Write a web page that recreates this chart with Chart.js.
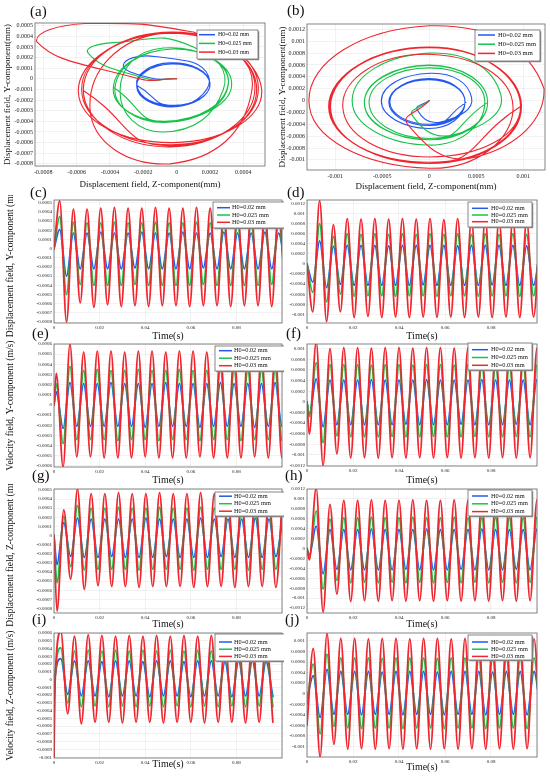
<!DOCTYPE html>
<html>
<head>
<meta charset="utf-8">
<script src="https://cdn.jsdelivr.net/npm/chart.js@4.4.1/dist/chart.umd.min.js"></script>
<style>
  body { margin: 0; background: #fff; }
  #wrap { position: relative; width: 550px; height: 777px; overflow: hidden; background: #fff; }
  #wrap canvas { position: absolute; }
  .lab { position: absolute; font-family: 'Liberation Serif', serif; font-size: 15px; line-height: 15px; color: #111; }
</style>
</head>
<body>
<div id="wrap"></div>
<script>
// legend labels and colours
const labels = ['H0=0.02 mm', 'H0=0.025 mm', 'H0=0.03 mm'];
const colors = ['#2457f0', '#18c24a', '#f0262e'];

// ---- orbit (a): Z/Y displacement, points at the left/top/right/bottom of each turn
const aBlueZ = [0, -0.00016, -0.00032, -0.00013, 0.00019, 0.00001, -0.00024, -0.00004, 0.0002, -0.00001, -0.00024, -0.00003, 0.0002, -0.00002, -0.00024, -0.00003, 0.0002, -0.00002, -0.00024];
const aBlueY = [0, 0.00001, 0.00013, 0.00021, 0.00003, -0.00026, -0.00006, 0.00015, -0.00004, -0.00025, -0.00006, 0.00014, -0.00005, -0.00026, -0.00007, 0.00014, -0.00005, -0.00025, -0.00006];
const aGreenZ = [0, -0.0002, -0.00053, -0.00038, 0.0001, 0.00028, -0.00008, -0.00034, -0.00008, 0.00033, -0.00006, -0.00038, -0.00002, 0.00031, -0.00007, -0.00037, -0.00002, 0.00031, -0.00007, -0.00038];
const aGreenY = [0, 0.00001, 0.00024, 0.00034, 0.0003, -0.0001, -0.0005, -0.00012, 0.00029, -0.00004, -0.0004, -0.00008, 0.00028, -0.00005, -0.00041, -0.00008, 0.00028, -0.00004, -0.0004, -0.00008];
const aRedZ = [0, -0.00025, -0.00084, -0.00055, 0.0001, 0.00045, -0.00004, -0.00052, -0.00008, 0.00051, -0.00002, -0.00059, -0.00004, 0.00047, -0.00004, -0.00056, -0.00003, 0.00049, -0.00003, -0.00057, -0.00004, 0.00048, -0.00004, -0.00056];
const aRedY = [0, 0.00001, 0.00035, 0.00052, 0.00044, -0.00012, -0.0008, -0.00028, 0.00043, -0.0001, -0.0006, -0.00012, 0.00043, -0.00008, -0.00064, -0.0001, 0.00044, -0.00009, -0.00062, -0.0001, 0.00043, -0.0001, -0.00063, -0.00011];

// ---- orbit (b)
const bBlueZ = [0, -0.00013, 0.00012, 0.00045, 0.00001, -0.00051, -0.00001, 0.00038, 0, -0.00042, 0, 0.00038, 0, -0.00043, 0, 0.00038, 0, -0.00043, 0, 0.00039];
const bBlueY = [0, -0.00015, -0.00036, 0.00005, 0.00046, 0, -0.00047, -0.00003, 0.00035, -0.00002, -0.0004, -0.00002, 0.00037, -0.00003, -0.00042, -0.00003, 0.00037, -0.00003, -0.00042, -0.00003];
const bGreenZ = [0, -0.00018, 0.00025, 0.00076, 0.00001, -0.00082, 0, 0.00059, 0, -0.00064, 0, 0.00062, 0, -0.00069, 0, 0.00062, 0, -0.00069, 0, 0.00062];
const bGreenY = [0, -0.00025, -0.00058, 0.0001, 0.0008, 0, -0.00075, -0.00003, 0.00055, -0.00003, -0.00064, -0.00003, 0.0006, -0.00003, -0.00066, -0.00003, 0.00059, -0.00004, -0.00066, -0.00003];
const bRedZ = [0, -0.00023, 0.0005, 0.00122, 0, -0.00128, 0, 0.00089, -0.00005, -0.00092, 0, 0.00097, 0, -0.00107, 0, 0.00097, 0, -0.00105, 0, 0.00098, 0, -0.00106, 0, 0.00097];
const bRedY = [0, -0.0004, -0.00095, 0.0002, 0.00126, 0, -0.00114, -0.0001, 0.00078, -0.0001, -0.00095, -0.0001, 0.0009, -0.0001, -0.00104, -0.0001, 0.0009, -0.0001, -0.00106, -0.0001, 0.00089, -0.0001, -0.00106, -0.0001];

// ---- time series: times of the peaks/troughs and the values there
const tC = [0, 0.0025, 0.0055, 0.0085, 0.0115, 0.0145, 0.0175, 0.0205, 0.0235, 0.0265, 0.0295, 0.0325, 0.0355, 0.0385, 0.0415, 0.0445, 0.0475, 0.0505, 0.0535, 0.0565, 0.0595, 0.0625, 0.0655, 0.0685, 0.0715, 0.0745, 0.0775, 0.0805, 0.0835, 0.0865, 0.0895, 0.0925, 0.0955, 0.0985, 0.1015];
const cBlue = [0,
  0.00021, -0.0003, 0.00017, -0.00022, 0.00017, -0.00022, 0.00018, -0.00022,
  0.00017, -0.00022, 0.00017, -0.00021, 0.00018, -0.00022, 0.00017, -0.00022,
  0.00017, -0.00022, 0.00018, -0.00022, 0.00017, -0.00021, 0.00017, -0.00022,
  0.00018, -0.00022, 0.00017, -0.00022, 0.00017, -0.00022, 0.00018, -0.00022,
  0.00017, -0.00022];
const cGreen = [0,
  0.00035, -0.0005, 0.00029, -0.00039, 0.00028, -0.0004, 0.00028, -0.0004,
  0.00029, -0.0004, 0.00028, -0.00039, 0.00028, -0.0004, 0.00029, -0.0004,
  0.00028, -0.0004, 0.00028, -0.0004, 0.00029, -0.00039, 0.00028, -0.0004,
  0.00028, -0.0004, 0.00029, -0.0004, 0.00028, -0.0004, 0.00028, -0.00039,
  0.00029, -0.0004];
const cRed = [0,
  0.00052, -0.0008, 0.00043, -0.00059, 0.00043, -0.00064, 0.00044, -0.00061,
  0.00045, -0.00063, 0.00044, -0.00062, 0.00044, -0.00063, 0.00045, -0.00062,
  0.00044, -0.00062, 0.00044, -0.00063, 0.00045, -0.00062, 0.00044, -0.00062,
  0.00044, -0.00063, 0.00045, -0.00062, 0.00044, -0.00062, 0.00044, -0.00063,
  0.00045, -0.00062];

const tD = tC;
const dBlue = [0,
  -0.00036, 0.00046, -0.00047, 0.00035, -0.0004, 0.00037, -0.00042, 0.00037,
  -0.00042, 0.00037, -0.00042, 0.00036, -0.00042, 0.00037, -0.00042, 0.00037,
  -0.00041, 0.00037, -0.00042, 0.00037, -0.00042, 0.00036, -0.00042, 0.00037,
  -0.00042, 0.00037, -0.00041, 0.00037, -0.00042, 0.00037, -0.00042, 0.00036,
  -0.00042, 0.00037];
const dGreen = [0,
  -0.00056, 0.0008, -0.00075, 0.00055, -0.0006, 0.0006, -0.00064, 0.00059,
  -0.00063, 0.0006, -0.00063, 0.00059, -0.00064, 0.0006, -0.00063, 0.00059,
  -0.00063, 0.0006, -0.00064, 0.00059, -0.00063, 0.0006, -0.00063, 0.00059,
  -0.00064, 0.0006, -0.00063, 0.00059, -0.00063, 0.0006, -0.00064, 0.00059,
  -0.00063, 0.0006];
const dRed = [0,
  -0.00095, 0.00126, -0.00114, 0.00078, -0.00095, 0.0009, -0.00106, 0.00089,
  -0.00104, 0.0009, -0.00106, 0.00089, -0.00105, 0.0009, -0.00106, 0.00089,
  -0.00105, 0.0009, -0.00106, 0.00088, -0.00105, 0.0009, -0.00106, 0.00089,
  -0.00105, 0.0009, -0.00106, 0.00089, -0.00105, 0.0009, -0.00106, 0.00089,
  -0.00105, 0.0009];

const tE = [0, 0.001, 0.004, 0.007, 0.01, 0.013, 0.016, 0.019, 0.022, 0.025, 0.028, 0.031, 0.034, 0.037, 0.04, 0.043, 0.046, 0.049, 0.052, 0.055, 0.058, 0.061, 0.064, 0.067, 0.07, 0.073, 0.076, 0.079, 0.082, 0.085, 0.088, 0.091, 0.094, 0.097, 0.1, 0.103];
const eBlue = [0,
  0.00013, -0.00023, 0.00022, -0.00021, 0.00021, -0.00021, 0.00021, -0.00021,
  0.00022, -0.00021, 0.00021, -0.00021, 0.00021, -0.00022, 0.00021, -0.00021,
  0.00022, -0.00021, 0.00021, -0.00021, 0.00021, -0.00022, 0.00021, -0.00021,
  0.00022, -0.00021, 0.00021, -0.00021, 0.00021, -0.00022, 0.00021, -0.00021,
  0.00022, -0.00021, 0.00021];
const eGreen = [0,
  0.00021, -0.00038, 0.00038, -0.00034, 0.00034, -0.00034, 0.00035, -0.00034,
  0.00034, -0.00035, 0.00034, -0.00034, 0.00035, -0.00034, 0.00034, -0.00035,
  0.00034, -0.00034, 0.00035, -0.00034, 0.00034, -0.00035, 0.00034, -0.00034,
  0.00035, -0.00034, 0.00034, -0.00035, 0.00034, -0.00034, 0.00035, -0.00034,
  0.00034, -0.00035, 0.00034];
const eRed = [0,
  0.00031, -0.00061, 0.0006, -0.00051, 0.00052, -0.00051, 0.00053, -0.00052,
  0.00053, -0.00052, 0.00052, -0.00052, 0.00053, -0.00051, 0.00053, -0.00052,
  0.00052, -0.00052, 0.00053, -0.00052, 0.00053, -0.00051, 0.00052, -0.00052,
  0.00053, -0.00052, 0.00053, -0.00052, 0.00052, -0.00051, 0.00053, -0.00052,
  0.00053, -0.00052, 0.00052];

const tF = tE;
const fBlue = [0,
  -0.00024, 0.00043, -0.00047, 0.00041, -0.00043, 0.00041, -0.00043, 0.00041,
  -0.00043, 0.00042, -0.00043, 0.00041, -0.00043, 0.00041, -0.00042, 0.00041,
  -0.00043, 0.00042, -0.00043, 0.00041, -0.00043, 0.00041, -0.00042, 0.00041,
  -0.00043, 0.00042, -0.00043, 0.00041, -0.00043, 0.00041, -0.00042, 0.00041,
  -0.00043, 0.00042, -0.00043];
const fGreen = [0,
  -0.00028, 0.00074, -0.00077, 0.0007, -0.00064, 0.0007, -0.00066, 0.0007,
  -0.00066, 0.00069, -0.00066, 0.0007, -0.00065, 0.0007, -0.00066, 0.00069,
  -0.00066, 0.0007, -0.00065, 0.0007, -0.00066, 0.00069, -0.00066, 0.0007,
  -0.00065, 0.0007, -0.00066, 0.00069, -0.00066, 0.0007, -0.00065, 0.0007,
  -0.00066, 0.00069, -0.00066];
const fRed = [0,
  -0.00061, 0.00113, -0.0012, 0.001, -0.00098, 0.00102, -0.00106, 0.00102,
  -0.00105, 0.00101, -0.00106, 0.00102, -0.00105, 0.00102, -0.00106, 0.00101,
  -0.00105, 0.00102, -0.00106, 0.00102, -0.00105, 0.00101, -0.00106, 0.00102,
  -0.00105, 0.00102, -0.00106, 0.00101, -0.00105, 0.00102, -0.00106, 0.00102,
  -0.00105, 0.00101, -0.00106];

const tG = [0, 0.0013, 0.0043, 0.0073, 0.0103, 0.0133, 0.0163, 0.0193, 0.0223, 0.0253, 0.0283, 0.0313, 0.0343, 0.0373, 0.0403, 0.0433, 0.0463, 0.0493, 0.0523, 0.0553, 0.0583, 0.0613, 0.0643, 0.0673, 0.0703, 0.0733, 0.0763, 0.0793, 0.0823, 0.0853, 0.0883, 0.0913, 0.0943, 0.0973, 0.1003];
const gBlue = [0,
  -0.00032, 0.00014, -0.00023, 0.00019, -0.00024, 0.00018, -0.00024, 0.00018,
  -0.00023, 0.00018, -0.00024, 0.00018, -0.00024, 0.00019, -0.00024, 0.00018,
  -0.00023, 0.00018, -0.00024, 0.00018, -0.00024, 0.00019, -0.00024, 0.00018,
  -0.00023, 0.00018, -0.00024, 0.00018, -0.00024, 0.00019, -0.00024, 0.00018,
  -0.00023, 0.00018];
const gGreen = [0,
  -0.00052, 0.00021, -0.00034, 0.00033, -0.00038, 0.0003, -0.00037, 0.0003,
  -0.00037, 0.00031, -0.00037, 0.0003, -0.00038, 0.0003, -0.00037, 0.00031,
  -0.00037, 0.0003, -0.00037, 0.0003, -0.00038, 0.00031, -0.00037, 0.0003,
  -0.00037, 0.0003, -0.00037, 0.00031, -0.00038, 0.0003, -0.00037, 0.0003,
  -0.00037, 0.00031];
const gRed = [0,
  -0.00083, 0.00028, -0.00048, 0.00051, -0.00059, 0.00046, -0.00055, 0.00046,
  -0.00056, 0.00047, -0.00056, 0.00046, -0.00057, 0.00046, -0.00056, 0.00047,
  -0.00056, 0.00046, -0.00056, 0.00046, -0.00057, 0.00047, -0.00056, 0.00046,
  -0.00056, 0.00046, -0.00057, 0.00047, -0.00056, 0.00046, -0.00056, 0.00046,
  -0.00057, 0.00047];

const tH = tE;
const hBlue = [0,
  -0.00013, 0.00045, -0.00051, 0.00038, -0.00042, 0.00038, -0.00043, 0.00038,
  -0.00043, 0.00039, -0.00043, 0.00038, -0.00043, 0.00038, -0.00042, 0.00038,
  -0.00043, 0.00039, -0.00043, 0.00038, -0.00043, 0.00038, -0.00042, 0.00038,
  -0.00043, 0.00039, -0.00043, 0.00038, -0.00043, 0.00038, -0.00042, 0.00038,
  -0.00043, 0.00039, -0.00043];
const hGreen = [0,
  -0.00018, 0.00076, -0.00082, 0.00059, -0.00064, 0.00062, -0.00069, 0.00062,
  -0.00068, 0.00063, -0.00069, 0.00062, -0.00068, 0.00062, -0.00069, 0.00063,
  -0.00068, 0.00062, -0.00069, 0.00062, -0.00068, 0.00063, -0.00069, 0.00062,
  -0.00068, 0.00062, -0.00069, 0.00063, -0.00068, 0.00062, -0.00069, 0.00062,
  -0.00068, 0.00063, -0.00069];
const hRed = [0,
  -0.00023, 0.00122, -0.00128, 0.00089, -0.00092, 0.00097, -0.00107, 0.00097,
  -0.00105, 0.00098, -0.00106, 0.00097, -0.00105, 0.00097, -0.00106, 0.00098,
  -0.00105, 0.00097, -0.00106, 0.00097, -0.00105, 0.00098, -0.00106, 0.00097,
  -0.00105, 0.00097, -0.00106, 0.00098, -0.00105, 0.00097, -0.00106, 0.00097,
  -0.00105, 0.00098, -0.00106];

const tI = [0, 0.0004, 0.003, 0.006, 0.009, 0.012, 0.015, 0.018, 0.021, 0.024, 0.027, 0.03, 0.033, 0.036, 0.039, 0.042, 0.045, 0.048, 0.051, 0.054, 0.057, 0.06, 0.063, 0.066, 0.069, 0.072, 0.075, 0.078, 0.081, 0.084, 0.087, 0.09, 0.093, 0.096, 0.099, 0.102];
const iBlue = [-0.0003, 0.00001,
  0.00027, -0.00019, 0.00024, -0.00021, 0.00024, -0.00021, 0.00023, -0.00022,
  0.00024, -0.00021, 0.00024, -0.00021, 0.00023, -0.00022, 0.00024, -0.00021,
  0.00024, -0.00021, 0.00023, -0.00022, 0.00024, -0.00021, 0.00024, -0.00021,
  0.00023, -0.00022, 0.00024, -0.00021, 0.00024, -0.00021, 0.00023, -0.00022];
const iGreen = [-0.0005, 0,
  0.00041, -0.0003, 0.00037, -0.00035, 0.00038, -0.00034, 0.00037, -0.00035,
  0.00038, -0.00034, 0.00037, -0.00035, 0.00038, -0.00034, 0.00037, -0.00035,
  0.00038, -0.00034, 0.00037, -0.00035, 0.00038, -0.00034, 0.00037, -0.00035,
  0.00038, -0.00034, 0.00037, -0.00035, 0.00038, -0.00034, 0.00037, -0.00035];
const iRed = [-0.00105, -0.0001,
  0.00062, -0.00044, 0.00056, -0.00057, 0.00058, -0.00055, 0.00057, -0.00055,
  0.00056, -0.00056, 0.00057, -0.00055, 0.00056, -0.00055, 0.00057, -0.00056,
  0.00056, -0.00055, 0.00057, -0.00055, 0.00056, -0.00056, 0.00057, -0.00055,
  0.00056, -0.00055, 0.00057, -0.00056, 0.00056, -0.00055, 0.00057, -0.00055];

const tJ = [0, 0.0027, 0.0057, 0.0087, 0.0117, 0.0147, 0.0177, 0.0207, 0.0237, 0.0267, 0.0297, 0.0327, 0.0357, 0.0387, 0.0417, 0.0447, 0.0477, 0.0507, 0.0537, 0.0567, 0.0597, 0.0627, 0.0657, 0.0687, 0.0717, 0.0747, 0.0777, 0.0807, 0.0837, 0.0867, 0.0897, 0.0927, 0.0957, 0.0987, 0.1017];
const jBlue = [-0.0001,
  0.00034, -0.00045, 0.00046, -0.00039, 0.00042, -0.00039, 0.00042, -0.0004,
  0.00042, -0.00039, 0.00041, -0.00039, 0.00042, -0.0004, 0.00042, -0.00039,
  0.00042, -0.00039, 0.00041, -0.0004, 0.00042, -0.00039, 0.00042, -0.00039,
  0.00042, -0.0004, 0.00041, -0.00039, 0.00042, -0.00039, 0.00042, -0.0004,
  0.00042, -0.00039];
const jGreen = [-0.0002,
  0.00056, -0.00076, 0.00075, -0.00062, 0.00068, -0.00065, 0.00068, -0.00066,
  0.00068, -0.00065, 0.00067, -0.00065, 0.00068, -0.00066, 0.00068, -0.00065,
  0.00068, -0.00065, 0.00067, -0.00066, 0.00068, -0.00065, 0.00068, -0.00065,
  0.00068, -0.00066, 0.00067, -0.00065, 0.00068, -0.00065, 0.00068, -0.00066,
  0.00068, -0.00065];
const jRed = [-0.0006,
  0.00086, -0.0012, 0.00114, -0.00096, 0.00105, -0.00105, 0.00105, -0.00104,
  0.00104, -0.00105, 0.00105, -0.00104, 0.00105, -0.00105, 0.00104, -0.00104,
  0.00105, -0.00105, 0.00105, -0.00104, 0.00104, -0.00105, 0.00105, -0.00104,
  0.00105, -0.00105, 0.00104, -0.00104, 0.00105, -0.00105, 0.00105, -0.00104,
  0.00104, -0.00105];

// ---------------------------------------------------------------------------
const serif = "'Liberation Serif', 'Times New Roman', serif";
const fmt = v => String(+v.toFixed(5));

function series(t, vals) {
  return t.map((x, i) => ({ x, y: vals[i] })).filter(p => p.y !== undefined);
}
function orbit(zs, ys) {
  return zs.map((z, i) => ({ x: z, y: ys[i] }));
}

// plot frame round the chart area
const framePlugin = {
  id: 'frame',
  afterDatasetsDraw(chart) {
    const { ctx, chartArea: a } = chart;
    ctx.save();
    ctx.strokeStyle = '#666';
    ctx.lineWidth = 0.8;
    ctx.strokeRect(a.left, a.top, a.right - a.left, a.bottom - a.top);
    ctx.restore();
  }
};

// boxed legend with a small shadow, like the original figure
const boxLegend = {
  id: 'boxLegend',
  afterDraw(chart, args, o) {
    if (!o || o.x === undefined) return;
    const ctx = chart.ctx;
    ctx.save();
    ctx.fillStyle = '#9a9a9a';
    ctx.fillRect(o.x + 1.3, o.y + 1.3, o.w, o.h);
    ctx.fillStyle = '#fff';
    ctx.fillRect(o.x, o.y, o.w, o.h);
    ctx.strokeStyle = '#555';
    ctx.lineWidth = 0.7;
    ctx.strokeRect(o.x, o.y, o.w, o.h);
    ctx.font = o.size + 'px ' + serif;
    ctx.textBaseline = 'middle';
    chart.data.datasets.forEach((ds, i) => {
      const yy = o.y + o.first + i * o.gap;
      ctx.strokeStyle = ds.borderColor;
      ctx.lineWidth = 1.5;
      ctx.beginPath();
      ctx.moveTo(o.x + o.lx1, yy);
      ctx.lineTo(o.x + o.lx2, yy);
      ctx.stroke();
      ctx.fillStyle = '#111';
      ctx.fillText(ds.label, o.x + o.tx, yy);
    });
    ctx.restore();
  }
};

const wrap = document.getElementById('wrap');

function makePanel(p) {
  const cv = document.createElement('canvas');
  cv.width = p.w;
  cv.height = p.h;
  cv.style.left = p.left + 'px';
  cv.style.top = p.top + 'px';
  cv.style.width = p.w + 'px';
  cv.style.height = p.h + 'px';
  wrap.appendChild(cv);

  const isOrbit = p.kind === 'orbit';
  const datasets = p.data.map((d, i) => ({
    label: labels[i],
    data: d,
    showLine: true,
    borderColor: colors[i],
    borderWidth: isOrbit ? 1.1 : 1.8,
    borderJoinStyle: 'round',
    borderCapStyle: 'round',
    pointRadius: 0,
    fill: false,
    order: 3 - i,
    tension: isOrbit ? 0.55 : 0,
    cubicInterpolationMode: isOrbit ? 'default' : 'monotone'
  }));

  const tickFont = { family: serif, size: p.tickSize };
  const leg = p.legend;

  new Chart(cv, {
    type: 'scatter',
    data: { datasets },
    options: {
      responsive: false,
      animation: false,
      events: [],
      layout: { padding: { top: p.padTop, right: p.padRight, left: 0, bottom: 0 } },
      plugins: {
        legend: { display: false },
        tooltip: { enabled: false },
        boxLegend: Object.assign({ size: 6.3 }, leg, { x: leg.x - p.left, y: leg.y - p.top })
      },
      scales: {
        x: {
          type: 'linear',
          min: p.x.min,
          max: p.x.max,
          grid: { color: 'rgba(0,0,0,0.09)', lineWidth: 0.6, drawTicks: false },
          border: { display: false },
          ticks: {
            stepSize: p.x.step,
            includeBounds: false,
            autoSkip: false,
            maxRotation: 0,
            padding: p.xPad,
            color: '#222',
            font: tickFont,
            callback: v => (p.x.hideAbove !== undefined && v > p.x.hideAbove) ? '' : fmt(v)
          },
          title: {
            display: !!p.xTitle,
            text: p.xTitle,
            color: '#111',
            font: { family: serif, size: p.xTitleSize, lineHeight: 1 },
            padding: { top: 0, bottom: p.xTitleOff - p.xTitleSize / 2 }
          },
          afterFit: s => { s.height = p.xh; }
        },
        y: {
          type: 'linear',
          min: p.y.min,
          max: p.y.max,
          grid: { color: 'rgba(0,0,0,0.09)', lineWidth: 0.6, drawTicks: false },
          border: { display: false },
          ticks: {
            stepSize: p.y.step,
            includeBounds: false,
            autoSkip: false,
            padding: 2,
            color: '#222',
            font: tickFont,
            callback: v => fmt(v)
          },
          title: {
            display: !!p.yTitle,
            text: p.yTitle,
            color: '#111',
            font: { family: serif, size: p.yTitleSize, lineHeight: 1 },
            padding: { top: p.yTitleOff - p.yTitleSize / 2, bottom: 0 }
          },
          afterFit: s => { s.width = p.yw; }
        }
      }
    },
    plugins: [framePlugin, boxLegend]
  });
}

const timeX = { min: 0, max: 0.1, step: 0.02, hideAbove: 0.09 };
const leftLeg = { w: 75, lx1: 4, lx2: 17, tx: 19, size: 6.3 };
const rightLeg = { w: 64, lx1: 4, lx2: 20, tx: 23, size: 6.3 };

const panels = [
  { kind: 'orbit', left: 0, top: 0, w: 275, h: 195, yw: 35, xh: 29, padTop: 23, padRight: 10,
    x: { min: -0.00085, max: 0.00053, step: 0.0002 }, y: { min: -0.00082, max: 0.000525, step: 0.0001 },
    tickSize: 6, xPad: 3,
    xTitle: 'Displacement field, Z-component(mm)', xTitleSize: 9, xTitleOff: 10,
    yTitle: 'Displacement field, Y-component(mm)', yTitleSize: 9, yTitleOff: 8,
    data: [orbit(aBlueZ, aBlueY), orbit(aGreenZ, aGreenY), orbit(aRedZ, aRedY)],
    legend: { x: 197, y: 30, w: 61, h: 29, first: 4.7, gap: 8.7, lx1: 2, lx2: 18, tx: 21, size: 5.8 } },
  { kind: 'orbit', left: 275, top: 0, w: 275, h: 195, yw: 32, xh: 25, padTop: 24, padRight: 5,
    x: { min: -0.0013, max: 0.00123, step: 0.0005 }, y: { min: -0.00117, max: 0.00129, step: 0.0002 },
    tickSize: 6, xPad: 3,
    xTitle: 'Displacement field, Z-component(mm)', xTitleSize: 9, xTitleOff: 8,
    yTitle: 'Displacement field, Y-component(mm)', yTitleSize: 9, yTitleOff: 8,
    data: [orbit(bBlueZ, bBlueY), orbit(bGreenZ, bGreenY), orbit(bRedZ, bRedY)],
    legend: { x: 475, y: 30, w: 65, h: 31, first: 5, gap: 9.2, lx1: 3, lx2: 20, tx: 23, size: 6.5 } },

  { left: 0, top: 195, w: 284, h: 146, yw: 54, xh: 18, padTop: 2, padRight: 1,
    x: timeX, y: { min: -0.00081, max: 0.00053, step: 0.0001 }, tickSize: 5, xPad: 2,
    xTitle: 'Time(s)', xTitleSize: 10, xTitleOff: 5,
    yTitle: 'Displacement field, Y-component (mm)', yTitleSize: 9.5, yTitleOff: 10,
    data: [series(tC, cBlue), series(tC, cGreen), series(tC, cRed)],
    legend: Object.assign({ x: 213, y: 202, h: 26, first: 5.7, gap: 7.3 }, leftLeg) },
  { left: 284, top: 195, w: 266, h: 146, yw: 23, xh: 18, padTop: 2, padRight: 13,
    x: timeX, y: { min: -0.00117, max: 0.00127, step: 0.0002 }, tickSize: 5, xPad: 2,
    xTitle: 'Time(s)', xTitleSize: 10, xTitleOff: 5,
    data: [series(tD, dBlue), series(tD, dGreen), series(tD, dRed)],
    legend: Object.assign({ x: 468, y: 202, h: 25, first: 6.3, gap: 6.7 }, rightLeg) },

  { left: 0, top: 339, w: 284, h: 147, yw: 54, xh: 19, padTop: 2, padRight: 1,
    x: timeX, y: { min: -0.00061, max: 0.0006, step: 0.0001 }, tickSize: 5, xPad: 2,
    xTitle: 'Time(s)', xTitleSize: 10, xTitleOff: 6,
    yTitle: 'Velocity field, Y-component (m/s)', yTitleSize: 9.5, yTitleOff: 10,
    data: [series(tE, eBlue), series(tE, eGreen), series(tE, eRed)],
    legend: Object.assign({ x: 215, y: 346, h: 25, first: 4.7, gap: 7.5 }, leftLeg) },
  { left: 284, top: 339, w: 266, h: 147, yw: 23, xh: 20, padTop: 2, padRight: 13,
    x: timeX, y: { min: -0.00121, max: 0.00109, step: 0.0002 }, tickSize: 5, xPad: 2,
    xTitle: 'Time(s)', xTitleSize: 10, xTitleOff: 6,
    data: [series(tF, fBlue), series(tF, fGreen), series(tF, fRed)],
    legend: Object.assign({ x: 468, y: 343, h: 27, first: 6.7, gap: 7.8 }, rightLeg) },

  { left: 0, top: 484, w: 284, h: 146, yw: 54, xh: 17, padTop: 2, padRight: 1,
    x: timeX, y: { min: -0.00085, max: 0.00051, step: 0.0001 }, tickSize: 5, xPad: 2,
    xTitle: 'Time(s)', xTitleSize: 10, xTitleOff: 6,
    yTitle: 'Displacement field, Z-component (mm)', yTitleSize: 9.5, yTitleOff: 10,
    data: [series(tG, gBlue), series(tG, gGreen), series(tG, gRed)],
    legend: Object.assign({ x: 215, y: 492, h: 24, first: 4.2, gap: 7.5 }, leftLeg) },
  { left: 284, top: 484, w: 266, h: 146, yw: 23, xh: 17, padTop: 2, padRight: 13,
    x: timeX, y: { min: -0.0013, max: 0.0012, step: 0.0002 }, tickSize: 5, xPad: 2,
    xTitle: 'Time(s)', xTitleSize: 10, xTitleOff: 6,
    data: [series(tH, hBlue), series(tH, hGreen), series(tH, hRed)],
    legend: Object.assign({ x: 468, y: 490, h: 26, first: 6, gap: 7.8 }, rightLeg) },

  { left: 0, top: 628, w: 284, h: 149, yw: 54, xh: 19, padTop: 2, padRight: 1,
    x: timeX, y: { min: -0.00101, max: 0.0006, step: 0.0001 }, tickSize: 5, xPad: 2,
    xTitle: 'Time(s)', xTitleSize: 10, xTitleOff: 13,
    yTitle: 'Velocity field, Z-component (m/s)', yTitleSize: 9.5, yTitleOff: 10,
    data: [series(tI, iBlue), series(tI, iGreen), series(tI, iRed)],
    legend: Object.assign({ x: 215, y: 634, h: 27, first: 8, gap: 7.2 }, leftLeg) },
  { left: 284, top: 628, w: 266, h: 149, yw: 23, xh: 20, padTop: 2, padRight: 13,
    x: timeX, y: { min: -0.0012, max: 0.00115, step: 0.0002 }, tickSize: 5, xPad: 2,
    xTitle: 'Time(s)', xTitleSize: 10, xTitleOff: 10,
    data: [series(tJ, jBlue), series(tJ, jGreen), series(tJ, jRed)],
    legend: Object.assign({ x: 468, y: 635, h: 25, first: 7, gap: 7.2 }, rightLeg) }
];

panels.forEach(makePanel);

// panel letters
[['(a)', 30, 4], ['(b)', 287, 3], ['(c)', 30, 185], ['(d)', 287, 185],
 ['(e)', 32, 326], ['(f)', 286, 326], ['(g)', 32, 468], ['(h)', 285, 468],
 ['(i)', 32, 612], ['(j)', 285, 612]].forEach(([t, x, y]) => {
  const d = document.createElement('div');
  d.className = 'lab';
  d.textContent = t;
  d.style.left = x + 'px';
  d.style.top = y + 'px';
  wrap.appendChild(d);
});
</script>
</body>
</html>
